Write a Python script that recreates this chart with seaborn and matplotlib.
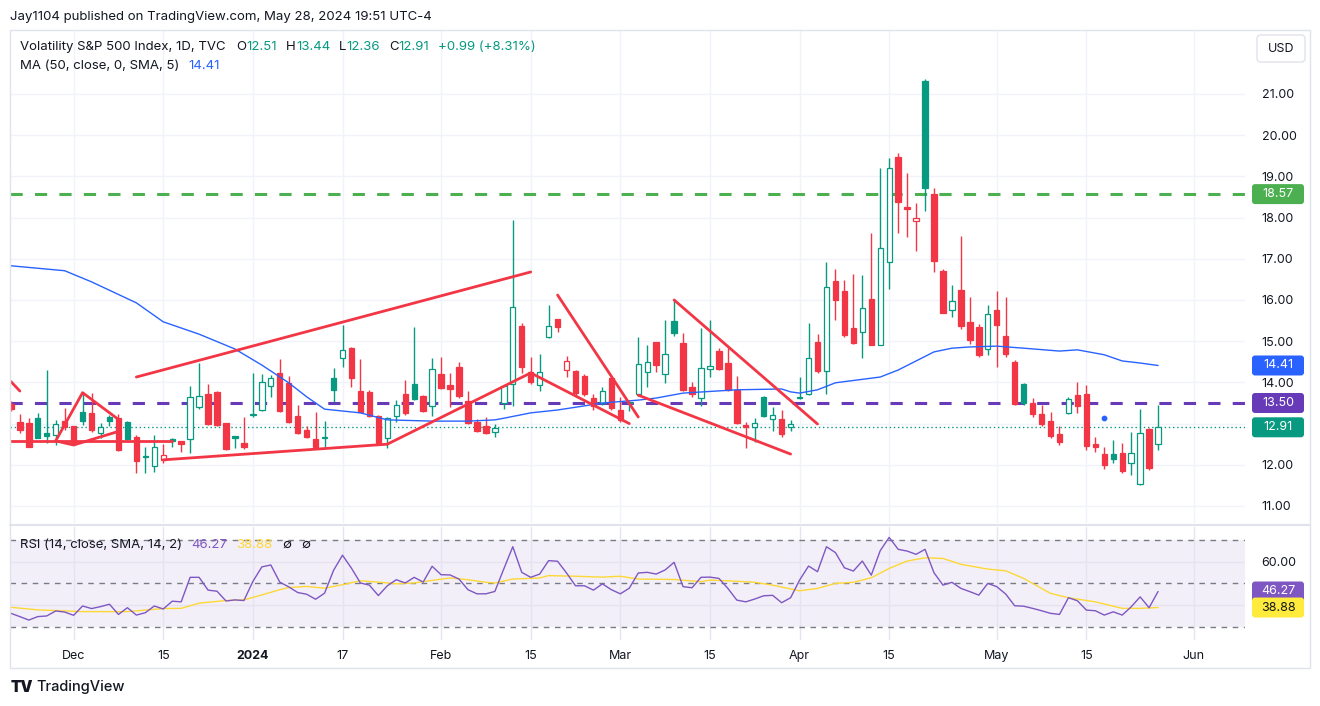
import numpy as np
import pandas as pd
import seaborn as sns
import matplotlib.pyplot as plt
from matplotlib.patches import FancyBboxPatch, Rectangle
from matplotlib.lines import Line2D
from matplotlib.transforms import IdentityTransform

sns.set_theme(style="white")
plt.rcParams['font.family'] = ['Inter', 'DejaVu Sans']

# trading calendar (US market holidays removed)
holidays = ["2023-11-23", "2023-12-25", "2024-01-01", "2024-01-15",
            "2024-02-19", "2024-03-29", "2024-05-27"]
axis_days = pd.bdate_range("2023-11-21", "2024-06-28", freq="C", holidays=holidays)
dates = axis_days[axis_days <= "2024-05-28"]

# VIX daily OHLC
opens = [13.48, 13.05, 13.02, 13.13, 12.76, 12.72, 13.06, 12.93, 13.27, 13.25,
         12.76, 13.15, 13.13, 13.03, 12.67, 12.18, 11.96, 12.12, 12.62, 12.57,
         12.62, 13.40, 13.71, 13.76, 13.01, 12.69, 12.54, 13.20, 13.33, 13.92,
         14.22, 13.98, 13.19, 12.84, 12.62, 12.65, 14.11, 14.58, 14.84, 13.79,
         13.76, 13.18, 12.64, 13.18, 13.72, 13.96, 13.67, 13.43, 14.20, 13.94,
         14.37, 13.56, 13.05, 12.94, 12.79, 13.49, 13.96, 15.37, 14.24, 13.94,
         15.09, 15.53, 14.29, 14.28, 14.16, 13.61, 13.51, 14.11, 13.33, 13.50,
         13.73, 14.26, 14.97, 14.20, 15.50, 14.95, 13.88, 13.61, 14.33, 14.75,
         14.48, 13.82, 12.96, 12.91, 13.65, 13.10, 13.10, 12.92, 13.62, 13.73,
         14.99, 14.28, 16.45, 16.23, 15.33, 15.23, 16.02, 14.91, 16.93, 19.48,
         18.25, 17.91, 21.32, 18.57, 16.71, 15.76, 16.24, 15.47, 15.35, 14.80,
         15.76, 15.13, 14.50, 13.96, 13.49, 13.23, 13.06, 12.75, 13.25, 13.69,
         13.72, 12.50, 12.26, 12.25, 12.28, 12.04, 11.53, 12.86, 12.51]
highs = [13.55, 13.23, 13.13, 13.25, 14.29, 13.09, 13.37, 12.93, 13.72, 13.75,
         13.02, 13.21, 13.23, 13.07, 12.72, 12.44, 12.72, 12.50, 12.64, 12.57,
         13.92, 14.46, 13.95, 13.78, 13.02, 12.70, 13.17, 14.22, 14.20, 14.18,
         14.57, 14.16, 13.44, 12.93, 13.29, 13.06, 14.34, 15.39, 14.87, 14.57,
         13.81, 13.20, 13.17, 13.57, 14.07, 15.35, 13.69, 14.58, 14.62, 14.22,
         14.50, 13.78, 13.11, 13.15, 12.99, 13.94, 17.93, 15.45, 14.62, 14.70,
         15.88, 15.55, 14.64, 14.30, 14.20, 13.73, 13.88, 14.14, 13.65, 13.56,
         15.09, 14.91, 14.97, 15.51, 16.02, 15.19, 14.02, 15.31, 15.51, 14.83,
         14.83, 14.15, 13.05, 13.13, 13.67, 13.41, 13.33, 13.09, 14.14, 15.43,
         15.17, 16.93, 16.74, 16.49, 16.62, 16.61, 17.62, 19.20, 19.44, 19.56,
         19.09, 18.36, 21.36, 18.71, 16.74, 16.36, 17.55, 16.07, 15.42, 15.89,
         16.23, 16.08, 14.54, 13.99, 13.61, 13.45, 13.27, 12.94, 13.65, 14.02,
         13.94, 12.67, 12.44, 12.59, 12.54, 12.80, 13.35, 12.89, 13.44]
lows = [13.30, 12.78, 12.42, 12.64, 12.54, 12.48, 12.85, 12.48, 12.97, 12.80,
        12.64, 12.94, 12.33, 12.60, 11.81, 11.81, 11.83, 12.04, 12.42, 12.32,
        12.28, 13.35, 12.97, 12.95, 12.36, 12.40, 12.38, 13.17, 13.31, 13.65,
        13.29, 13.02, 12.74, 12.64, 12.38, 12.44, 13.53, 14.38, 13.90, 13.28,
        13.17, 12.50, 12.40, 13.05, 13.21, 13.57, 13.27, 13.18, 13.83, 13.40,
        13.61, 12.99, 12.80, 12.74, 12.68, 13.35, 13.43, 14.22, 13.96, 13.80,
        15.07, 15.23, 14.14, 13.65, 13.67, 13.33, 13.45, 13.33, 13.05, 13.31,
        13.67, 13.90, 14.26, 13.98, 15.13, 13.78, 13.65, 13.43, 14.14, 14.30,
        13.78, 13.00, 12.40, 12.56, 13.15, 12.83, 12.67, 12.83, 13.59, 13.69,
        14.23, 13.73, 15.51, 15.11, 14.93, 14.58, 14.91, 14.91, 16.26, 17.63,
        17.54, 17.20, 18.17, 16.69, 15.68, 15.58, 15.29, 14.93, 14.62, 14.66,
        14.37, 14.62, 13.45, 13.45, 13.15, 12.94, 12.64, 12.48, 13.24, 13.25,
        12.36, 12.32, 11.89, 12.05, 11.81, 11.75, 11.52, 11.87, 12.36]
closes = [13.35, 12.84, 12.44, 12.66, 12.69, 12.98, 12.92, 12.52, 13.07, 12.84,
          12.92, 13.06, 12.35, 12.62, 12.08, 12.20, 12.44, 12.24, 12.57, 12.50,
          13.65, 13.67, 13.00, 12.97, 12.38, 12.66, 12.42, 13.24, 14.00, 14.11,
          13.31, 13.05, 12.76, 12.67, 12.42, 12.68, 13.82, 14.79, 14.11, 13.29,
          13.18, 12.52, 13.13, 13.44, 13.25, 13.60, 13.31, 14.32, 13.86, 13.83,
          13.67, 13.02, 12.83, 12.78, 12.89, 13.91, 15.82, 14.38, 14.01, 14.24,
          15.38, 15.35, 14.51, 13.75, 13.71, 13.43, 13.80, 13.37, 13.09, 13.53,
          14.44, 14.49, 14.42, 14.70, 15.19, 13.82, 13.73, 14.36, 14.40, 14.32,
          13.82, 13.02, 12.92, 13.02, 13.18, 13.21, 12.75, 12.98, 13.65, 14.58,
          14.28, 16.32, 16.00, 15.15, 14.95, 15.80, 14.91, 17.27, 19.20, 18.39,
          18.21, 18.00, 18.71, 16.94, 15.69, 15.97, 15.37, 15.03, 14.67, 15.65,
          15.39, 14.68, 13.47, 13.49, 13.23, 13.00, 12.69, 12.55, 13.60, 13.42,
          12.45, 12.42, 11.99, 12.15, 11.86, 12.29, 12.77, 11.93, 12.91]

# 50-day SMA, sampled along the blue line
ma_dates = ["2023-11-21", "2023-11-30", "2023-12-05", "2023-12-12", "2023-12-15",
            "2023-12-21", "2023-12-28", "2024-01-03", "2024-01-08", "2024-01-10",
            "2024-01-12", "2024-01-19", "2024-01-24", "2024-01-31", "2024-02-06",
            "2024-02-09", "2024-02-12", "2024-02-15", "2024-02-21", "2024-02-26",
            "2024-02-28", "2024-03-05", "2024-03-07", "2024-03-12", "2024-03-20",
            "2024-03-27", "2024-03-28", "2024-04-01", "2024-04-03", "2024-04-05",
            "2024-04-12", "2024-04-16", "2024-04-22", "2024-04-24", "2024-04-26",
            "2024-05-01", "2024-05-06", "2024-05-10", "2024-05-14", "2024-05-17",
            "2024-05-21", "2024-05-23", "2024-05-28"]
ma_values = [16.83, 16.71, 16.44, 15.93, 15.47, 15.17, 14.81, 14.42, 13.99, 13.65,
             13.35, 13.26, 13.09, 13.06, 13.06, 13.09, 13.13, 13.26, 13.33, 13.43,
             13.50, 13.57, 13.62, 13.74, 13.82, 13.84, 13.77, 13.74, 13.82, 13.99,
             14.13, 14.30, 14.74, 14.83, 14.86, 14.88, 14.83, 14.76, 14.79, 14.67,
             14.52, 14.47, 14.41]

# RSI(14) per bar
rsi_values = [36.2, 34.7, 33.1, 34.7, 35.0, 37.3, 36.8, 35.3, 39.6, 38.4,
              39.3, 40.4, 35.7, 38.8, 35.4, 36.5, 39.6, 38.2, 41.8, 41.5,
              52.8, 52.8, 46.9, 46.4, 41.9, 42.4, 42.1, 50.9, 57.6, 58.5,
              50.6, 48.4, 45.8, 45.0, 42.7, 45.5, 56.0, 63.0, 57.0, 50.2,
              49.2, 44.4, 48.9, 51.7, 50.2, 52.8, 50.6, 57.9, 54.0, 53.9,
              52.0, 47.1, 45.2, 45.2, 46.3, 56.7, 66.9, 55.1, 52.8, 54.3,
              60.5, 60.2, 54.8, 48.9, 48.9, 46.9, 49.8, 47.1, 45.2, 47.8,
              54.8, 55.1, 54.3, 56.2, 59.7, 48.5, 48.0, 52.8, 52.9, 52.3,
              47.7, 42.3, 41.5, 42.8, 44.3, 44.5, 41.1, 43.4, 51.5, 58.0,
              55.4, 66.9, 64.2, 57.2, 55.7, 60.3, 53.8, 65.1, 71.2, 65.7,
              64.9, 63.4, 65.7, 54.9, 49.2, 50.5, 47.7, 46.2, 44.6, 50.0,
              48.5, 45.1, 39.7, 39.5, 38.5, 37.4, 36.2, 35.7, 43.4, 42.0,
              37.7, 37.4, 35.4, 36.9, 35.4, 39.2, 43.8, 38.8, 46.27]

# RSI smoothing line (SMA 14), sampled
sig_dates = ["2023-11-21", "2023-11-27", "2023-12-04", "2023-12-11", "2023-12-15",
             "2023-12-19", "2023-12-21", "2023-12-27", "2023-12-29", "2024-01-03",
             "2024-01-05", "2024-01-08", "2024-01-10", "2024-01-12", "2024-01-17",
             "2024-01-19", "2024-01-23", "2024-01-25", "2024-01-29", "2024-01-31",
             "2024-02-02", "2024-02-06", "2024-02-08", "2024-02-09", "2024-02-13",
             "2024-02-16", "2024-02-20", "2024-02-23", "2024-02-28", "2024-03-01",
             "2024-03-05", "2024-03-11", "2024-03-14", "2024-03-15", "2024-03-19",
             "2024-03-22", "2024-03-26", "2024-04-01", "2024-04-03", "2024-04-05",
             "2024-04-09", "2024-04-11", "2024-04-15", "2024-04-17", "2024-04-19",
             "2024-04-23", "2024-04-25", "2024-04-30", "2024-05-02", "2024-05-06",
             "2024-05-09", "2024-05-13", "2024-05-16", "2024-05-17", "2024-05-21",
             "2024-05-23", "2024-05-28"]
sig_values = [39.0, 37.8, 37.0, 37.0, 38.4, 38.5, 40.9, 42.1, 42.4, 44.7,
              47.1, 48.1, 48.6, 47.8, 49.4, 51.2, 50.6, 49.8, 50.2, 51.4,
              52.5, 51.7, 50.5, 50.2, 52.0, 52.5, 53.6, 53.3, 52.9, 53.3,
              52.0, 51.8, 50.8, 51.5, 51.2, 50.5, 49.2, 46.6, 47.7, 50.0,
              50.5, 52.6, 56.9, 60.3, 61.8, 61.5, 58.8, 56.6, 55.8, 52.3,
              45.4, 43.4, 41.5, 40.5, 38.5, 38.5, 38.88]

# hand-drawn trend lines: (date, price) vertices
trendlines = [
    [("2023-11-21", 14.02), ("2023-11-22", 13.79)],
    [("2023-11-21", 12.58), ("2023-12-18", 12.58)],
    [("2023-11-29", 12.58), ("2023-12-04", 13.75), ("2023-12-08", 13.10)],
    [("2023-11-29", 12.58), ("2023-12-01", 12.48), ("2023-12-08", 12.81)],
    [("2023-12-15", 12.12), ("2024-01-24", 12.50)],
    [("2023-12-12", 14.13), ("2024-02-15", 16.68)],
    [("2024-01-24", 12.50), ("2024-02-15", 14.23), ("2024-03-04", 13.00)],
    [("2024-02-21", 16.12), ("2024-03-05", 13.16)],
    [("2024-03-11", 16.00), ("2024-04-03", 12.99)],
    [("2024-03-05", 13.69), ("2024-03-28", 12.26)],
]
level_green = 18.57
level_purple = 13.50
ma_last = 14.41
rsi_last, sig_last = 46.27, 38.88
blue_dot = ("2024-05-17", 13.13)

tick_dates = ["2023-12-01", "2023-12-15", "2024-01-02", "2024-01-17", "2024-02-01",
              "2024-02-15", "2024-03-01", "2024-03-15", "2024-04-01", "2024-04-15",
              "2024-05-01", "2024-05-15", "2024-06-03"]
tick_labels = ["Dec", "15", "2024", "17", "Feb", "15", "Mar", "15", "Apr", "15",
               "May", "15", "Jun"]

GREEN, RED = "#089981", "#f23645"
TXT = "#131722"
GRID = "#f0f3fa"
W, H = 1320, 706


def fx(px):
    return px / W


def fy(py):
    return 1 - py / H


def pos(ds):
    return axis_days.get_indexer(pd.to_datetime(ds))


fig = plt.figure(figsize=(W / 100, H / 100), dpi=100)
fig.patch.set_facecolor("white")
ax = fig.add_axes([fx(10), fy(523), fx(1245) - fx(10), fy(30) - fy(523)])
axr = fig.add_axes([fx(10), fy(640), fx(1245) - fx(10), fy(527) - fy(640)])

x = np.arange(len(dates))
o, h, l, c = map(np.array, (opens, highs, lows, closes))
prev = np.r_[o[0], c[:-1]]
col = np.where(c >= prev, GREEN, RED)
face = np.where(c > o, "white", col)

# candles (hollow style)
ax.vlines(x, l, h, colors=col, linewidth=1, zorder=3)
ax.bar(x, np.maximum(np.abs(c - o), 0.03), bottom=np.minimum(o, c), width=0.6,
       color=face, edgecolor=col, linewidth=0.9, zorder=4)

sns.lineplot(x=pos(ma_dates), y=ma_values, ax=ax, color="#2962ff", linewidth=1, zorder=5)

for pts in trendlines:
    ax.plot(pos([d for d, _ in pts]), [p for _, p in pts], color=RED, lw=2,
            solid_capstyle="round", zorder=6)

ax.axhline(level_green, color="#4caf50", lw=2.2, ls=(0, (4, 4)), zorder=2)
ax.axhline(level_purple, color="#673ab7", lw=2.2, ls=(0, (4, 4)), zorder=2)
ax.axhline(closes[-1], color=GREEN, lw=1, ls=(0, (1, 2)), zorder=2)
ax.scatter(pos([blue_dot[0]]), [blue_dot[1]], s=10, color="#2962ff", zorder=6)

tick_pos = pos(tick_dates)
ax.set_xlim(-0.1, 137.7)
ax.set_ylim(10.587, 22.553)
ax.set_xticks(tick_pos)
ax.set_yticks(range(11, 22))
ax.set_yticklabels(["" if v == 13 else f"{v:.2f}" for v in range(11, 22)])
ax.yaxis.tick_right()
ax.tick_params(axis="x", labelbottom=False, length=0)
ax.tick_params(axis="y", length=0, pad=12, labelsize=9, labelcolor=TXT)
ax.grid(True, color=GRID, lw=1)
ax.set_axisbelow(True)

# RSI pane
axr.axhspan(30, 70, color="#7e57c2", alpha=0.09, lw=0, zorder=0)
for lev in (70, 50, 30):
    axr.axhline(lev, color="#787b86", lw=1, ls=(0, (4, 4)), zorder=1)
sns.lineplot(x=x, y=rsi_values, ax=axr, color="#7e57c2", linewidth=1, zorder=4)
sns.lineplot(x=pos(sig_dates), y=sig_values, ax=axr, color="#fdd835", linewidth=1, zorder=3)
axr.set_xlim(-0.1, 137.7)
axr.set_ylim(23.92, 75.99)
axr.set_xticks(tick_pos)
axr.set_xticklabels(tick_labels)
for t in axr.get_xticklabels():
    if t.get_text() == "2024":
        t.set_fontweight("bold")
axr.set_yticks([40, 60])
axr.set_yticklabels(["", "60.00"])
axr.yaxis.tick_right()
axr.tick_params(axis="x", length=0, pad=7, labelsize=9, labelcolor=TXT)
axr.tick_params(axis="y", length=0, pad=12, labelsize=9, labelcolor=TXT)
axr.grid(True, color="#e6e3ef", lw=1)
axr.set_axisbelow(True)

for a in (ax, axr):
    for s in a.spines.values():
        s.set_visible(False)
    a.set_xlabel("")
    a.set_ylabel("")

# frame and separators
fig.add_artist(Rectangle((fx(10), fy(668)), fx(1310) - fx(10), fy(30) - fy(668),
                         fill=False, ec="#e0e3eb", lw=1, transform=fig.transFigure))
fig.add_artist(Line2D([fx(10), fx(1310)], [fy(525), fy(525)], color="#e0e3eb", lw=1.5,
                      transform=fig.transFigure))


def tag(a, value, fc, fg="white"):
    yd = a.transData.transform((0, value))[1]
    fig.add_artist(FancyBboxPatch((1252, yd - 10), 52, 20,
                                  boxstyle="round,pad=0,rounding_size=3",
                                  fc=fc, ec="none", transform=IdentityTransform(), zorder=10))
    fig.text(fx(1278), yd / H, f"{value:.2f}", color=fg, ha="center", va="center",
             fontsize=9, zorder=11)


tag(ax, level_green, "#4caf50")
tag(ax, ma_last, "#2962ff")
tag(ax, level_purple, "#673ab7")
tag(ax, closes[-1], GREEN)
tag(axr, rsi_last, "#7e57c2")
tag(axr, sig_last, "#ffeb3b", TXT)

# USD box
fig.add_artist(FancyBboxPatch((1257, H - 62), 48, 27, boxstyle="round,pad=0,rounding_size=4",
                              fc="white", ec="#e0e3eb", lw=1, transform=IdentityTransform()))
fig.text(fx(1281), fy(48.5), "USD", ha="center", va="center", fontsize=9, color=TXT)

renderer = fig.canvas.get_renderer()


def seq_text(x0, y0, parts, size):
    for s, colr, gap in parts:
        t = fig.text(fx(x0), fy(y0), s, color=colr, fontsize=size, ha="left", va="center")
        x0 += t.get_window_extent(renderer=renderer).width + gap


fig.text(fx(10), fy(17), "Jay1104 published on TradingView.com, May 28, 2024 19:51 UTC-4",
         fontsize=9.5, color=TXT, ha="left", va="center")
seq_text(20, 47, [("Volatility S&P 500 Index, 1D, TVC", TXT, 11),
                  ("O", TXT, 0), ("12.51", GREEN, 9),
                  ("H", TXT, 0), ("13.44", GREEN, 9),
                  ("L", TXT, 0), ("12.36", GREEN, 9),
                  ("C", TXT, 0), ("12.91", GREEN, 9),
                  ("+0.99 (+8.31%)", GREEN, 0)], 9.5)
seq_text(20, 66, [("MA (50, close, 0, SMA, 5)", TXT, 9), ("14.41", "#2962ff", 0)], 9.5)
seq_text(20, 545, [("RSI (14, close, SMA, 14, 2)", TXT, 9), ("46.27", "#7e57c2", 9),
                   ("38.88", "#fdd835", 10), ("∅", TXT, 10), ("∅", TXT, 0)], 9.5)

fig.text(fx(11), fy(687), "TV", fontsize=11, fontweight="black", color=TXT,
         ha="left", va="center")
fig.text(fx(36), fy(687), "TradingView", fontsize=10.5, fontweight="medium", color=TXT,
         ha="left", va="center")

fig.savefig("out.png", dpi=100)
